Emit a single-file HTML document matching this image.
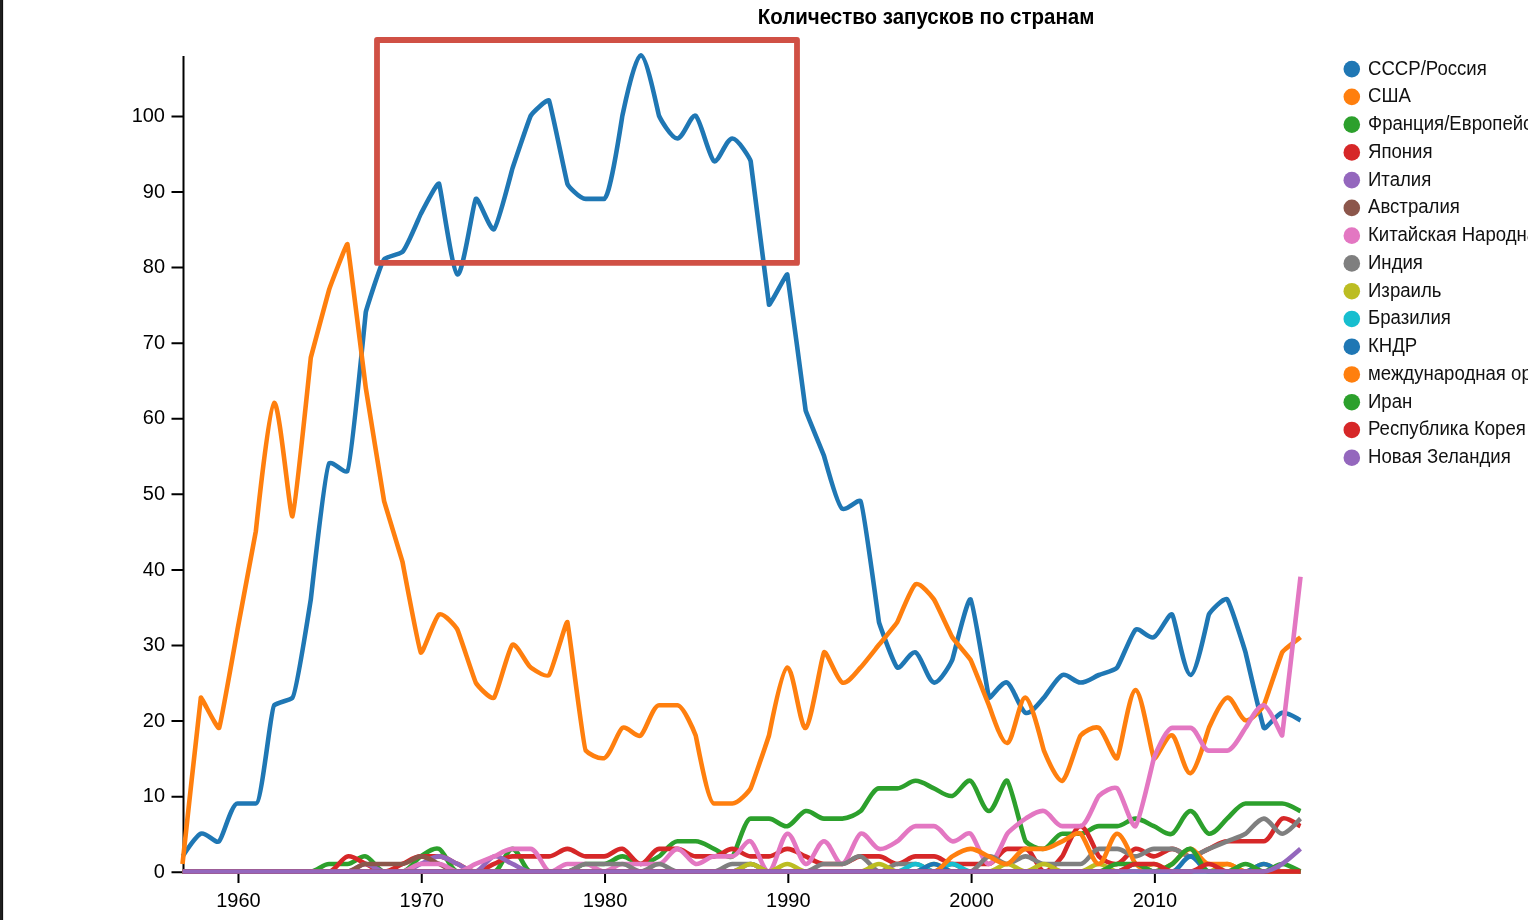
<!DOCTYPE html>
<html><head><meta charset="utf-8"><style>
html,body{margin:0;padding:0;background:#fff;width:1528px;height:920px;overflow:hidden}
svg{position:absolute;left:0;top:0;font-family:"Liberation Sans",sans-serif;will-change:transform}
</style></head><body>
<svg width="1528" height="920" viewBox="0 0 1528 920">
<rect x="0" y="0" width="2" height="920" fill="#1f1f1f"/>
<rect x="2" y="0" width="1" height="920" fill="#111"/>
<rect x="3" y="0" width="1" height="920" fill="#e2e2e2"/>
<text transform="translate(926.00,23.50) scale(1,1.055)" text-anchor="middle" font-weight="bold" font-size="20.5" fill="#000">Количество запусков по странам</text>
<path stroke="#000" stroke-width="2" fill="none" d="M183.5,56V872H1300.5M171.5,872.20H183.5M171.5,796.63H183.5M171.5,721.05H183.5M171.5,645.48H183.5M171.5,569.90H183.5M171.5,494.33H183.5M171.5,418.76H183.5M171.5,343.18H183.5M171.5,267.61H183.5M171.5,192.03H183.5M171.5,116.46H183.5M238.48,872.0V883.0M421.76,872.0V883.0M605.04,872.0V883.0M788.32,872.0V883.0M971.60,872.0V883.0M1154.88,872.0V883.0"/>
<g font-size="20" fill="#000">
<text transform="translate(165.00,877.80) scale(1,1.055)" text-anchor="end">0</text><text transform="translate(165.00,802.23) scale(1,1.055)" text-anchor="end">10</text><text transform="translate(165.00,726.65) scale(1,1.055)" text-anchor="end">20</text><text transform="translate(165.00,651.08) scale(1,1.055)" text-anchor="end">30</text><text transform="translate(165.00,575.50) scale(1,1.055)" text-anchor="end">40</text><text transform="translate(165.00,499.93) scale(1,1.055)" text-anchor="end">50</text><text transform="translate(165.00,424.36) scale(1,1.055)" text-anchor="end">60</text><text transform="translate(165.00,348.78) scale(1,1.055)" text-anchor="end">70</text><text transform="translate(165.00,273.21) scale(1,1.055)" text-anchor="end">80</text><text transform="translate(165.00,197.63) scale(1,1.055)" text-anchor="end">90</text><text transform="translate(165.00,122.06) scale(1,1.055)" text-anchor="end">100</text>
<text transform="translate(238.48,906.60) scale(1,1.055)" text-anchor="middle">1960</text><text transform="translate(421.76,906.60) scale(1,1.055)" text-anchor="middle">1970</text><text transform="translate(605.04,906.60) scale(1,1.055)" text-anchor="middle">1980</text><text transform="translate(788.32,906.60) scale(1,1.055)" text-anchor="middle">1990</text><text transform="translate(971.60,906.60) scale(1,1.055)" text-anchor="middle">2000</text><text transform="translate(1154.88,906.60) scale(1,1.055)" text-anchor="middle">2010</text>
</g>
<g fill="none" stroke-width="4.6" stroke-linejoin="round">
<path d="M182.50,856.39C183.71,854.89,195.61,835.87,200.83,833.71S215.52,844.27,219.16,841.27S231.37,803.48,237.48,803.48S249.70,803.48,255.81,803.48S270.68,708.26,274.14,705.24S289.01,700.71,292.47,697.68S310.65,600.37,310.80,599.43S325.40,466.38,329.12,463.40S344.22,474.01,347.45,470.96S365.60,313.28,365.78,312.25S381.02,262.40,384.11,259.35S398.50,254.72,402.43,251.79S419.39,216.56,420.76,214.01S437.45,181.07,439.09,183.78S452.20,272.31,457.42,274.46S473.33,201.88,475.75,198.89S490.44,232.12,494.07,229.12S511.82,170.45,512.40,168.66S529.22,118.39,530.73,115.76S547.55,98.01,549.06,100.64S566.51,181.64,567.39,183.78S579.60,198.89,585.71,198.89S597.93,198.89,604.04,198.89S622.00,117.22,622.37,115.76S634.59,55.30,640.70,55.30S658.03,113.50,659.02,115.76S671.24,138.43,677.35,138.43S691.26,113.03,695.68,115.76S709.59,158.37,714.01,161.10S726.23,138.43,732.34,138.43S750.25,159.57,750.66,161.10S768.41,302.91,768.99,304.69S786.66,272.58,787.32,274.46S805.41,409.31,805.65,410.50S823.23,453.84,823.98,455.84S837.26,506.43,842.30,508.74S858.00,498.16,860.63,501.19S878.68,620.82,878.96,622.11S893.65,664.45,897.29,667.45S910.39,650.18,915.61,652.34S928.08,681.36,933.94,682.56S951.28,662.15,952.27,659.89S967.64,596.38,970.60,599.43S987.93,695.42,988.93,697.68S1002.03,680.41,1007.25,682.56S1020.36,710.64,1025.58,712.79S1040.95,700.73,1043.91,697.68S1057.02,677.16,1062.24,675.01S1074.46,682.56,1080.57,682.56S1093.59,677.08,1098.89,675.01S1114.65,670.47,1117.22,667.45S1131.91,632.66,1135.55,629.66S1148.66,639.37,1153.88,637.22S1169.24,611.49,1172.20,614.55S1184.42,675.01,1190.53,675.01S1207.70,616.95,1208.86,614.55S1224.23,596.38,1227.19,599.43S1245.06,650.72,1245.52,652.34S1262.20,725.20,1263.84,727.91S1276.31,714.00,1282.17,712.79S1297.89,719.28,1300.50,720.35" stroke="#1f77b4"/><path d="M182.50,863.94C182.54,863.61,200.41,699.21,200.83,697.68S217.78,730.46,219.16,727.91S237.28,630.76,237.48,629.66S255.66,532.38,255.81,531.42S268.92,405.09,274.14,402.94S290.05,519.29,292.47,516.30S310.64,358.56,310.80,357.60S328.54,291.37,329.12,289.58S346.70,242.23,347.45,244.24S365.66,386.97,365.78,387.83S383.85,499.95,384.11,501.19S402.10,560.25,402.43,561.65S418.78,649.48,420.76,652.34S434.67,617.28,439.09,614.55S456.04,627.11,457.42,629.66S474.37,680.01,475.75,682.56S491.11,700.73,494.07,697.68S508.77,647.78,512.40,644.78S526.58,664.60,530.73,667.45S546.09,678.06,549.06,675.01S566.22,619.71,567.39,622.11S583.26,747.59,585.71,750.58S598.17,759.33,604.04,758.14S617.95,730.64,622.37,727.91S636.28,738.20,640.70,735.47S652.92,705.24,659.02,705.24S671.24,705.24,677.35,705.24S694.93,733.47,695.68,735.47S707.90,803.48,714.01,803.48S726.23,803.48,732.34,803.48S749.29,790.92,750.66,788.37S768.48,737.16,768.99,735.47S781.46,668.66,787.32,667.45S800.43,730.06,805.65,727.91S821.56,655.32,823.98,652.34S837.08,680.41,842.30,682.56S857.67,670.50,860.63,667.45S876.54,647.76,878.96,644.78S895.64,624.81,897.29,622.11S911.20,587.05,915.61,584.32S931.96,596.57,933.94,599.43S950.63,634.51,952.27,637.22S969.22,657.34,970.60,659.89S987.93,702.98,988.93,705.24S1001.39,744.23,1007.25,743.02S1019.72,696.47,1025.58,697.68S1042.92,748.33,1043.91,750.58S1057.02,782.96,1062.24,780.81S1077.90,738.50,1080.57,735.47S1093.96,725.50,1098.89,727.91S1114.26,761.19,1117.22,758.14S1129.44,690.12,1135.55,690.12S1151.46,755.15,1153.88,758.14S1166.98,733.31,1172.20,735.47S1184.67,774.46,1190.53,773.25S1207.70,730.31,1208.86,727.91S1221.33,698.89,1227.19,697.68S1239.66,719.14,1245.52,720.35S1262.47,707.79,1263.84,705.24S1280.80,654.89,1282.17,652.34S1298.68,638.72,1300.50,637.22" stroke="#ff7f0e"/><path d="M182.50,871.50C185.55,871.50,194.72,871.50,200.83,871.50S213.05,871.50,219.16,871.50S231.37,871.50,237.48,871.50S249.70,871.50,255.81,871.50S268.03,871.50,274.14,871.50S286.36,871.50,292.47,871.50S304.69,871.50,310.80,871.50S323.01,863.94,329.12,863.94S341.34,863.94,347.45,863.94S359.92,855.18,365.78,856.39S378.00,871.50,384.11,871.50S396.33,871.50,402.43,871.50S416.34,859.12,420.76,856.39S433.87,846.67,439.09,848.83S451.31,871.50,457.42,871.50S469.64,871.50,475.75,871.50S487.96,871.50,494.07,871.50S506.29,848.83,512.40,848.83S524.62,871.50,530.73,871.50S542.95,871.50,549.06,871.50S561.28,871.50,567.39,871.50S579.60,863.94,585.71,863.94S597.93,863.94,604.04,863.94S616.26,856.39,622.37,856.39S634.59,863.94,640.70,863.94S654.61,859.12,659.02,856.39S671.24,841.27,677.35,841.27S689.57,841.27,695.68,841.27S708.79,846.67,714.01,848.83S728.70,859.38,732.34,856.39S744.55,818.60,750.66,818.60S762.88,818.60,768.99,818.60S781.46,827.36,787.32,826.16S799.79,812.25,805.65,811.04S817.87,818.60,823.98,818.60S836.19,818.60,842.30,818.60S856.99,814.04,860.63,811.04S872.85,788.37,878.96,788.37S891.18,788.37,897.29,788.37S909.51,780.81,915.61,780.81S928.72,786.22,933.94,788.37S946.41,797.13,952.27,795.93S965.38,778.66,970.60,780.81S982.82,811.04,988.93,811.04S1003.62,777.81,1007.25,780.81S1023.15,838.28,1025.58,841.27S1037.91,849.65,1043.91,848.83S1056.13,833.71,1062.24,833.71S1074.46,833.71,1080.57,833.71S1092.78,826.16,1098.89,826.16S1111.11,826.16,1117.22,826.16S1129.44,818.60,1135.55,818.60S1148.66,824.00,1153.88,826.16S1166.98,835.87,1172.20,833.71S1184.42,811.04,1190.53,811.04S1203.00,832.50,1208.86,833.71S1223.55,821.60,1227.19,818.60S1239.41,803.48,1245.52,803.48S1257.73,803.48,1263.84,803.48S1276.06,803.48,1282.17,803.48S1297.89,809.96,1300.50,811.04" stroke="#2ca02c"/><path d="M182.50,871.50C185.55,871.50,194.72,871.50,200.83,871.50S213.05,871.50,219.16,871.50S231.37,871.50,237.48,871.50S249.70,871.50,255.81,871.50S268.03,871.50,274.14,871.50S286.36,871.50,292.47,871.50S304.69,871.50,310.80,871.50S323.01,871.50,329.12,871.50S341.59,857.59,347.45,856.39S360.56,861.79,365.78,863.94S378.00,871.50,384.11,871.50S397.21,866.10,402.43,863.94S414.65,856.39,420.76,856.39S432.98,856.39,439.09,856.39S452.20,861.79,457.42,863.94S469.64,871.50,475.75,871.50S488.85,866.10,494.07,863.94S506.29,856.39,512.40,856.39S524.62,856.39,530.73,856.39S542.95,856.39,549.06,856.39S561.28,848.83,567.39,848.83S579.60,856.39,585.71,856.39S597.93,856.39,604.04,856.39S616.51,847.62,622.37,848.83S634.59,863.94,640.70,863.94S652.92,848.83,659.02,848.83S671.24,848.83,677.35,848.83S689.57,856.39,695.68,856.39S707.90,856.39,714.01,856.39S726.23,848.83,732.34,848.83S744.55,856.39,750.66,856.39S762.88,856.39,768.99,856.39S781.21,848.83,787.32,848.83S800.43,854.23,805.65,856.39S817.87,863.94,823.98,863.94S836.19,863.94,842.30,863.94S854.52,856.39,860.63,856.39S872.85,856.39,878.96,856.39S891.18,863.94,897.29,863.94S909.51,856.39,915.61,856.39S927.83,856.39,933.94,856.39S946.16,863.94,952.27,863.94S964.49,863.94,970.60,863.94S982.82,863.94,988.93,863.94S1001.14,848.83,1007.25,848.83S1019.47,848.83,1025.58,848.83S1038.05,870.29,1043.91,871.50S1059.82,859.37,1062.24,856.39S1074.46,826.16,1080.57,826.16S1095.93,853.33,1098.89,856.39S1111.36,865.15,1117.22,863.94S1129.69,850.04,1135.55,848.83S1147.77,856.39,1153.88,856.39S1166.10,848.83,1172.20,848.83S1184.42,856.39,1190.53,856.39S1203.64,850.98,1208.86,848.83S1221.08,841.27,1227.19,841.27S1239.41,841.27,1245.52,841.27S1257.73,841.27,1263.84,841.27S1276.95,820.75,1282.17,818.60S1297.89,825.08,1300.50,826.16" stroke="#d62728"/><path d="M182.50,871.50C185.55,871.50,194.72,871.50,200.83,871.50S213.05,871.50,219.16,871.50S231.37,871.50,237.48,871.50S249.70,871.50,255.81,871.50S268.03,871.50,274.14,871.50S286.36,871.50,292.47,871.50S304.69,871.50,310.80,871.50S323.01,871.50,329.12,871.50S341.34,871.50,347.45,871.50S359.67,863.94,365.78,863.94S378.00,871.50,384.11,871.50S396.33,871.50,402.43,871.50S415.54,866.10,420.76,863.94S432.98,856.39,439.09,856.39S452.20,861.79,457.42,863.94S469.89,872.71,475.75,871.50S488.21,857.59,494.07,856.39S507.18,861.79,512.40,863.94S524.62,871.50,530.73,871.50S542.95,871.50,549.06,871.50S561.28,871.50,567.39,871.50S579.60,871.50,585.71,871.50S597.93,871.50,604.04,871.50S616.26,871.50,622.37,871.50S634.59,871.50,640.70,871.50S652.92,871.50,659.02,871.50S671.24,871.50,677.35,871.50S689.57,871.50,695.68,871.50S707.90,871.50,714.01,871.50S726.23,871.50,732.34,871.50S744.55,863.94,750.66,863.94S762.88,871.50,768.99,871.50S781.21,871.50,787.32,871.50S799.54,871.50,805.65,871.50S817.87,871.50,823.98,871.50S836.19,871.50,842.30,871.50S854.52,871.50,860.63,871.50S872.85,871.50,878.96,871.50S891.18,871.50,897.29,871.50S909.51,871.50,915.61,871.50S927.83,871.50,933.94,871.50S946.16,871.50,952.27,871.50S964.49,871.50,970.60,871.50S982.82,871.50,988.93,871.50S1001.14,871.50,1007.25,871.50S1019.47,871.50,1025.58,871.50S1037.80,871.50,1043.91,871.50S1056.13,871.50,1062.24,871.50S1074.46,871.50,1080.57,871.50S1092.78,871.50,1098.89,871.50S1111.11,871.50,1117.22,871.50S1129.44,871.50,1135.55,871.50S1147.77,871.50,1153.88,871.50S1166.10,871.50,1172.20,871.50S1184.42,871.50,1190.53,871.50S1202.75,871.50,1208.86,871.50S1221.08,871.50,1227.19,871.50S1239.41,871.50,1245.52,871.50S1257.73,871.50,1263.84,871.50S1276.06,871.50,1282.17,871.50S1297.45,871.50,1300.50,871.50" stroke="#9467bd"/><path d="M182.50,871.50C185.55,871.50,194.72,871.50,200.83,871.50S213.05,871.50,219.16,871.50S231.37,871.50,237.48,871.50S249.70,871.50,255.81,871.50S268.03,871.50,274.14,871.50S286.36,871.50,292.47,871.50S304.69,871.50,310.80,871.50S323.01,871.50,329.12,871.50S341.34,871.50,347.45,871.50S359.67,863.94,365.78,863.94S378.00,863.94,384.11,863.94S396.33,863.94,402.43,863.94S414.65,856.39,420.76,856.39S433.87,861.79,439.09,863.94S451.31,871.50,457.42,871.50S469.64,871.50,475.75,871.50S487.96,871.50,494.07,871.50S506.29,871.50,512.40,871.50S524.62,871.50,530.73,871.50S542.95,871.50,549.06,871.50S561.28,871.50,567.39,871.50S579.60,871.50,585.71,871.50S597.93,871.50,604.04,871.50S616.26,871.50,622.37,871.50S634.59,871.50,640.70,871.50S652.92,871.50,659.02,871.50S671.24,871.50,677.35,871.50S689.57,871.50,695.68,871.50S707.90,871.50,714.01,871.50S726.23,871.50,732.34,871.50S744.55,871.50,750.66,871.50S762.88,871.50,768.99,871.50S781.21,871.50,787.32,871.50S799.54,871.50,805.65,871.50S817.87,871.50,823.98,871.50S836.19,871.50,842.30,871.50S854.52,871.50,860.63,871.50S872.85,871.50,878.96,871.50S891.18,871.50,897.29,871.50S909.51,871.50,915.61,871.50S927.83,871.50,933.94,871.50S946.16,871.50,952.27,871.50S964.49,871.50,970.60,871.50S982.82,871.50,988.93,871.50S1001.14,871.50,1007.25,871.50S1019.47,871.50,1025.58,871.50S1037.80,871.50,1043.91,871.50S1056.13,871.50,1062.24,871.50S1074.46,871.50,1080.57,871.50S1092.78,871.50,1098.89,871.50S1111.11,871.50,1117.22,871.50S1129.44,871.50,1135.55,871.50S1147.77,871.50,1153.88,871.50S1166.10,871.50,1172.20,871.50S1184.42,871.50,1190.53,871.50S1202.75,871.50,1208.86,871.50S1221.08,871.50,1227.19,871.50S1239.41,871.50,1245.52,871.50S1257.73,871.50,1263.84,871.50S1276.06,871.50,1282.17,871.50S1297.45,871.50,1300.50,871.50" stroke="#8c564b"/><path d="M182.50,871.50C185.55,871.50,194.72,871.50,200.83,871.50S213.05,871.50,219.16,871.50S231.37,871.50,237.48,871.50S249.70,871.50,255.81,871.50S268.03,871.50,274.14,871.50S286.36,871.50,292.47,871.50S304.69,871.50,310.80,871.50S323.01,871.50,329.12,871.50S341.34,871.50,347.45,871.50S359.67,871.50,365.78,871.50S378.00,871.50,384.11,871.50S396.33,871.50,402.43,871.50S414.65,863.94,420.76,863.94S432.98,863.94,439.09,863.94S451.31,871.50,457.42,871.50S470.52,866.10,475.75,863.94S488.85,858.54,494.07,856.39S506.29,848.83,512.40,848.83S524.62,848.83,530.73,848.83S543.84,869.35,549.06,871.50S561.28,863.94,567.39,863.94S579.60,863.94,585.71,863.94S597.93,871.50,604.04,871.50S616.26,863.94,622.37,863.94S634.59,863.94,640.70,863.94S652.92,863.94,659.02,863.94S671.24,848.83,677.35,848.83S689.82,862.73,695.68,863.94S707.90,856.39,714.01,856.39S726.23,856.39,732.34,856.39S745.44,839.12,750.66,841.27S763.13,872.71,768.99,871.50S781.46,834.92,787.32,833.71S799.79,862.73,805.65,863.94S817.87,841.27,823.98,841.27S836.44,865.15,842.30,863.94S855.41,835.87,860.63,833.71S873.10,847.62,878.96,848.83S892.87,844.00,897.29,841.27S909.51,826.16,915.61,826.16S927.83,826.16,933.94,826.16S946.41,840.06,952.27,841.27S966.18,830.98,970.60,833.71S982.82,863.94,988.93,863.94S1004.84,836.70,1007.25,833.71S1021.16,821.33,1025.58,818.60S1038.05,809.83,1043.91,811.04S1056.13,826.16,1062.24,826.16S1074.46,826.16,1080.57,826.16S1095.73,798.98,1098.89,795.93S1113.40,785.41,1117.22,788.37S1131.91,829.15,1135.55,826.16S1153.13,760.14,1153.88,758.14S1166.10,727.91,1172.20,727.91S1184.42,727.91,1190.53,727.91S1202.75,750.58,1208.86,750.58S1221.08,750.58,1227.19,750.58S1243.10,730.90,1245.52,727.91S1257.98,704.03,1263.84,705.24S1281.71,737.08,1282.17,735.47S1300.46,577.11,1300.50,576.76" stroke="#e377c2"/><path d="M182.50,871.50C185.55,871.50,194.72,871.50,200.83,871.50S213.05,871.50,219.16,871.50S231.37,871.50,237.48,871.50S249.70,871.50,255.81,871.50S268.03,871.50,274.14,871.50S286.36,871.50,292.47,871.50S304.69,871.50,310.80,871.50S323.01,871.50,329.12,871.50S341.34,871.50,347.45,871.50S359.67,871.50,365.78,871.50S378.00,871.50,384.11,871.50S396.33,871.50,402.43,871.50S414.65,871.50,420.76,871.50S432.98,871.50,439.09,871.50S451.31,871.50,457.42,871.50S469.64,871.50,475.75,871.50S487.96,871.50,494.07,871.50S506.29,871.50,512.40,871.50S524.62,871.50,530.73,871.50S542.95,871.50,549.06,871.50S561.28,871.50,567.39,871.50S579.60,863.94,585.71,863.94S597.93,863.94,604.04,863.94S616.26,863.94,622.37,863.94S634.59,871.50,640.70,871.50S652.92,863.94,659.02,863.94S671.24,871.50,677.35,871.50S689.57,871.50,695.68,871.50S707.90,871.50,714.01,871.50S726.23,863.94,732.34,863.94S744.55,863.94,750.66,863.94S762.88,871.50,768.99,871.50S781.21,871.50,787.32,871.50S799.54,871.50,805.65,871.50S817.87,863.94,823.98,863.94S836.19,863.94,842.30,863.94S854.77,855.18,860.63,856.39S873.10,870.29,878.96,871.50S891.18,863.94,897.29,863.94S909.51,863.94,915.61,863.94S927.83,871.50,933.94,871.50S946.16,863.94,952.27,863.94S964.74,872.71,970.60,871.50S983.07,857.59,988.93,856.39S1001.14,863.94,1007.25,863.94S1019.47,856.39,1025.58,856.39S1037.80,863.94,1043.91,863.94S1056.13,863.94,1062.24,863.94S1074.46,863.94,1080.57,863.94S1092.78,848.83,1098.89,848.83S1111.11,848.83,1117.22,848.83S1129.44,856.39,1135.55,856.39S1147.77,848.83,1153.88,848.83S1166.10,848.83,1172.20,848.83S1184.42,856.39,1190.53,856.39S1203.64,850.98,1208.86,848.83S1221.97,843.42,1227.19,841.27S1241.10,836.45,1245.52,833.71S1257.73,818.60,1263.84,818.60S1276.06,833.71,1282.17,833.71S1298.68,820.10,1300.50,818.60" stroke="#7f7f7f"/><path d="M182.50,871.50C185.55,871.50,194.72,871.50,200.83,871.50S213.05,871.50,219.16,871.50S231.37,871.50,237.48,871.50S249.70,871.50,255.81,871.50S268.03,871.50,274.14,871.50S286.36,871.50,292.47,871.50S304.69,871.50,310.80,871.50S323.01,871.50,329.12,871.50S341.34,871.50,347.45,871.50S359.67,871.50,365.78,871.50S378.00,871.50,384.11,871.50S396.33,871.50,402.43,871.50S414.65,871.50,420.76,871.50S432.98,871.50,439.09,871.50S451.31,871.50,457.42,871.50S469.64,871.50,475.75,871.50S487.96,871.50,494.07,871.50S506.29,871.50,512.40,871.50S524.62,871.50,530.73,871.50S542.95,871.50,549.06,871.50S561.28,871.50,567.39,871.50S579.60,871.50,585.71,871.50S597.93,871.50,604.04,871.50S616.26,871.50,622.37,871.50S634.59,871.50,640.70,871.50S652.92,871.50,659.02,871.50S671.24,871.50,677.35,871.50S689.57,871.50,695.68,871.50S707.90,871.50,714.01,871.50S726.23,871.50,732.34,871.50S744.55,863.94,750.66,863.94S762.88,871.50,768.99,871.50S781.21,863.94,787.32,863.94S799.54,871.50,805.65,871.50S817.87,871.50,823.98,871.50S836.19,871.50,842.30,871.50S854.52,871.50,860.63,871.50S872.85,863.94,878.96,863.94S891.18,871.50,897.29,871.50S909.51,871.50,915.61,871.50S927.83,863.94,933.94,863.94S946.16,871.50,952.27,871.50S964.49,871.50,970.60,871.50S982.82,871.50,988.93,871.50S1001.14,863.94,1007.25,863.94S1019.47,871.50,1025.58,871.50S1037.80,863.94,1043.91,863.94S1056.13,871.50,1062.24,871.50S1074.46,871.50,1080.57,871.50S1092.78,863.94,1098.89,863.94S1111.11,871.50,1117.22,871.50S1129.44,871.50,1135.55,871.50S1147.77,863.94,1153.88,863.94S1166.10,871.50,1172.20,871.50S1184.42,871.50,1190.53,871.50S1202.75,871.50,1208.86,871.50S1221.08,863.94,1227.19,863.94S1239.41,871.50,1245.52,871.50S1257.73,863.94,1263.84,863.94S1276.06,871.50,1282.17,871.50S1297.45,871.50,1300.50,871.50" stroke="#bcbd22"/><path d="M182.50,871.50C185.55,871.50,194.72,871.50,200.83,871.50S213.05,871.50,219.16,871.50S231.37,871.50,237.48,871.50S249.70,871.50,255.81,871.50S268.03,871.50,274.14,871.50S286.36,871.50,292.47,871.50S304.69,871.50,310.80,871.50S323.01,871.50,329.12,871.50S341.34,871.50,347.45,871.50S359.67,871.50,365.78,871.50S378.00,871.50,384.11,871.50S396.33,871.50,402.43,871.50S414.65,871.50,420.76,871.50S432.98,871.50,439.09,871.50S451.31,871.50,457.42,871.50S469.64,871.50,475.75,871.50S487.96,871.50,494.07,871.50S506.29,871.50,512.40,871.50S524.62,871.50,530.73,871.50S542.95,871.50,549.06,871.50S561.28,871.50,567.39,871.50S579.60,871.50,585.71,871.50S597.93,871.50,604.04,871.50S616.26,871.50,622.37,871.50S634.59,871.50,640.70,871.50S652.92,871.50,659.02,871.50S671.24,871.50,677.35,871.50S689.57,871.50,695.68,871.50S707.90,871.50,714.01,871.50S726.23,871.50,732.34,871.50S744.55,871.50,750.66,871.50S762.88,871.50,768.99,871.50S781.21,871.50,787.32,871.50S799.54,871.50,805.65,871.50S817.87,871.50,823.98,871.50S836.19,871.50,842.30,871.50S854.52,871.50,860.63,871.50S872.85,871.50,878.96,871.50S891.18,871.50,897.29,871.50S909.51,863.94,915.61,863.94S927.83,871.50,933.94,871.50S946.16,863.94,952.27,863.94S964.49,871.50,970.60,871.50S982.82,871.50,988.93,871.50S1001.14,871.50,1007.25,871.50S1019.47,871.50,1025.58,871.50S1037.80,871.50,1043.91,871.50S1056.13,871.50,1062.24,871.50S1074.46,871.50,1080.57,871.50S1092.78,871.50,1098.89,871.50S1111.11,871.50,1117.22,871.50S1129.44,871.50,1135.55,871.50S1147.77,871.50,1153.88,871.50S1166.10,871.50,1172.20,871.50S1184.42,871.50,1190.53,871.50S1202.75,871.50,1208.86,871.50S1221.08,871.50,1227.19,871.50S1239.41,871.50,1245.52,871.50S1257.73,871.50,1263.84,871.50S1276.06,871.50,1282.17,871.50S1297.45,871.50,1300.50,871.50" stroke="#17becf"/><path d="M182.50,871.50C185.55,871.50,194.72,871.50,200.83,871.50S213.05,871.50,219.16,871.50S231.37,871.50,237.48,871.50S249.70,871.50,255.81,871.50S268.03,871.50,274.14,871.50S286.36,871.50,292.47,871.50S304.69,871.50,310.80,871.50S323.01,871.50,329.12,871.50S341.34,871.50,347.45,871.50S359.67,871.50,365.78,871.50S378.00,871.50,384.11,871.50S396.33,871.50,402.43,871.50S414.65,871.50,420.76,871.50S432.98,871.50,439.09,871.50S451.31,871.50,457.42,871.50S469.64,871.50,475.75,871.50S487.96,871.50,494.07,871.50S506.29,871.50,512.40,871.50S524.62,871.50,530.73,871.50S542.95,871.50,549.06,871.50S561.28,871.50,567.39,871.50S579.60,871.50,585.71,871.50S597.93,871.50,604.04,871.50S616.26,871.50,622.37,871.50S634.59,871.50,640.70,871.50S652.92,871.50,659.02,871.50S671.24,871.50,677.35,871.50S689.57,871.50,695.68,871.50S707.90,871.50,714.01,871.50S726.23,871.50,732.34,871.50S744.55,871.50,750.66,871.50S762.88,871.50,768.99,871.50S781.21,871.50,787.32,871.50S799.54,871.50,805.65,871.50S817.87,871.50,823.98,871.50S836.19,871.50,842.30,871.50S854.52,871.50,860.63,871.50S872.85,871.50,878.96,871.50S891.18,871.50,897.29,871.50S909.51,871.50,915.61,871.50S927.83,863.94,933.94,863.94S946.16,871.50,952.27,871.50S964.49,871.50,970.60,871.50S982.82,871.50,988.93,871.50S1001.14,871.50,1007.25,871.50S1019.47,871.50,1025.58,871.50S1037.80,871.50,1043.91,871.50S1056.13,871.50,1062.24,871.50S1074.46,871.50,1080.57,871.50S1092.78,871.50,1098.89,871.50S1111.11,871.50,1117.22,871.50S1129.44,863.94,1135.55,863.94S1147.77,871.50,1153.88,871.50S1166.10,871.50,1172.20,871.50S1184.42,856.39,1190.53,856.39S1202.75,871.50,1208.86,871.50S1221.08,871.50,1227.19,871.50S1239.41,871.50,1245.52,871.50S1257.73,863.94,1263.84,863.94S1276.06,871.50,1282.17,871.50S1297.45,871.50,1300.50,871.50" stroke="#1f77b4"/><path d="M182.50,871.50C185.55,871.50,194.72,871.50,200.83,871.50S213.05,871.50,219.16,871.50S231.37,871.50,237.48,871.50S249.70,871.50,255.81,871.50S268.03,871.50,274.14,871.50S286.36,871.50,292.47,871.50S304.69,871.50,310.80,871.50S323.01,871.50,329.12,871.50S341.34,871.50,347.45,871.50S359.67,871.50,365.78,871.50S378.00,871.50,384.11,871.50S396.33,871.50,402.43,871.50S414.65,871.50,420.76,871.50S432.98,871.50,439.09,871.50S451.31,871.50,457.42,871.50S469.64,871.50,475.75,871.50S487.96,871.50,494.07,871.50S506.29,871.50,512.40,871.50S524.62,871.50,530.73,871.50S542.95,871.50,549.06,871.50S561.28,871.50,567.39,871.50S579.60,871.50,585.71,871.50S597.93,871.50,604.04,871.50S616.26,871.50,622.37,871.50S634.59,871.50,640.70,871.50S652.92,871.50,659.02,871.50S671.24,871.50,677.35,871.50S689.57,871.50,695.68,871.50S707.90,871.50,714.01,871.50S726.23,871.50,732.34,871.50S744.55,871.50,750.66,871.50S762.88,871.50,768.99,871.50S781.21,871.50,787.32,871.50S799.54,871.50,805.65,871.50S817.87,871.50,823.98,871.50S836.19,871.50,842.30,871.50S854.52,871.50,860.63,871.50S872.85,871.50,878.96,871.50S891.18,871.50,897.29,871.50S909.51,871.50,915.61,871.50S927.83,871.50,933.94,871.50S947.85,859.12,952.27,856.39S964.49,848.83,970.60,848.83S983.70,854.23,988.93,856.39S1001.39,865.15,1007.25,863.94S1019.47,848.83,1025.58,848.83S1037.80,848.83,1043.91,848.83S1057.02,843.42,1062.24,841.27S1076.15,830.98,1080.57,833.71S1092.78,863.94,1098.89,863.94S1111.11,833.71,1117.22,833.71S1132.59,860.89,1135.55,863.94S1147.77,871.50,1153.88,871.50S1167.79,866.68,1172.20,863.94S1184.42,848.83,1190.53,848.83S1202.75,863.94,1208.86,863.94S1221.08,863.94,1227.19,863.94S1239.41,871.50,1245.52,871.50S1257.73,871.50,1263.84,871.50S1276.06,871.50,1282.17,871.50S1297.45,871.50,1300.50,871.50" stroke="#ff7f0e"/><path d="M182.50,871.50C185.55,871.50,194.72,871.50,200.83,871.50S213.05,871.50,219.16,871.50S231.37,871.50,237.48,871.50S249.70,871.50,255.81,871.50S268.03,871.50,274.14,871.50S286.36,871.50,292.47,871.50S304.69,871.50,310.80,871.50S323.01,871.50,329.12,871.50S341.34,871.50,347.45,871.50S359.67,871.50,365.78,871.50S378.00,871.50,384.11,871.50S396.33,871.50,402.43,871.50S414.65,871.50,420.76,871.50S432.98,871.50,439.09,871.50S451.31,871.50,457.42,871.50S469.64,871.50,475.75,871.50S487.96,871.50,494.07,871.50S506.29,871.50,512.40,871.50S524.62,871.50,530.73,871.50S542.95,871.50,549.06,871.50S561.28,871.50,567.39,871.50S579.60,871.50,585.71,871.50S597.93,871.50,604.04,871.50S616.26,871.50,622.37,871.50S634.59,871.50,640.70,871.50S652.92,871.50,659.02,871.50S671.24,871.50,677.35,871.50S689.57,871.50,695.68,871.50S707.90,871.50,714.01,871.50S726.23,871.50,732.34,871.50S744.55,871.50,750.66,871.50S762.88,871.50,768.99,871.50S781.21,871.50,787.32,871.50S799.54,871.50,805.65,871.50S817.87,871.50,823.98,871.50S836.19,871.50,842.30,871.50S854.52,871.50,860.63,871.50S872.85,871.50,878.96,871.50S891.18,871.50,897.29,871.50S909.51,871.50,915.61,871.50S927.83,871.50,933.94,871.50S946.16,871.50,952.27,871.50S964.49,871.50,970.60,871.50S982.82,871.50,988.93,871.50S1001.14,871.50,1007.25,871.50S1019.47,871.50,1025.58,871.50S1037.80,871.50,1043.91,871.50S1056.13,871.50,1062.24,871.50S1074.46,871.50,1080.57,871.50S1092.78,871.50,1098.89,871.50S1111.11,863.94,1117.22,863.94S1129.44,863.94,1135.55,863.94S1147.77,871.50,1153.88,871.50S1167.79,866.68,1172.20,863.94S1184.67,847.62,1190.53,848.83S1202.75,871.50,1208.86,871.50S1221.08,871.50,1227.19,871.50S1239.41,863.94,1245.52,863.94S1257.73,871.50,1263.84,871.50S1276.06,863.94,1282.17,863.94S1297.89,870.42,1300.50,871.50" stroke="#2ca02c"/><path d="M182.50,871.50C185.55,871.50,194.72,871.50,200.83,871.50S213.05,871.50,219.16,871.50S231.37,871.50,237.48,871.50S249.70,871.50,255.81,871.50S268.03,871.50,274.14,871.50S286.36,871.50,292.47,871.50S304.69,871.50,310.80,871.50S323.01,871.50,329.12,871.50S341.34,871.50,347.45,871.50S359.67,871.50,365.78,871.50S378.00,871.50,384.11,871.50S396.33,871.50,402.43,871.50S414.65,871.50,420.76,871.50S432.98,871.50,439.09,871.50S451.31,871.50,457.42,871.50S469.64,871.50,475.75,871.50S487.96,871.50,494.07,871.50S506.29,871.50,512.40,871.50S524.62,871.50,530.73,871.50S542.95,871.50,549.06,871.50S561.28,871.50,567.39,871.50S579.60,871.50,585.71,871.50S597.93,871.50,604.04,871.50S616.26,871.50,622.37,871.50S634.59,871.50,640.70,871.50S652.92,871.50,659.02,871.50S671.24,871.50,677.35,871.50S689.57,871.50,695.68,871.50S707.90,871.50,714.01,871.50S726.23,871.50,732.34,871.50S744.55,871.50,750.66,871.50S762.88,871.50,768.99,871.50S781.21,871.50,787.32,871.50S799.54,871.50,805.65,871.50S817.87,871.50,823.98,871.50S836.19,871.50,842.30,871.50S854.52,871.50,860.63,871.50S872.85,871.50,878.96,871.50S891.18,871.50,897.29,871.50S909.51,871.50,915.61,871.50S927.83,871.50,933.94,871.50S946.16,871.50,952.27,871.50S964.49,871.50,970.60,871.50S982.82,871.50,988.93,871.50S1001.14,871.50,1007.25,871.50S1019.47,871.50,1025.58,871.50S1037.80,871.50,1043.91,871.50S1056.13,871.50,1062.24,871.50S1074.46,871.50,1080.57,871.50S1092.78,871.50,1098.89,871.50S1111.11,871.50,1117.22,871.50S1129.44,863.94,1135.55,863.94S1147.77,863.94,1153.88,863.94S1166.10,871.50,1172.20,871.50S1184.42,871.50,1190.53,871.50S1202.75,863.94,1208.86,863.94S1221.08,871.50,1227.19,871.50S1239.41,871.50,1245.52,871.50S1257.73,871.50,1263.84,871.50S1276.06,871.50,1282.17,871.50S1297.45,871.50,1300.50,871.50" stroke="#d62728"/><path d="M182.50,871.50C185.55,871.50,194.72,871.50,200.83,871.50S213.05,871.50,219.16,871.50S231.37,871.50,237.48,871.50S249.70,871.50,255.81,871.50S268.03,871.50,274.14,871.50S286.36,871.50,292.47,871.50S304.69,871.50,310.80,871.50S323.01,871.50,329.12,871.50S341.34,871.50,347.45,871.50S359.67,871.50,365.78,871.50S378.00,871.50,384.11,871.50S396.33,871.50,402.43,871.50S414.65,871.50,420.76,871.50S432.98,871.50,439.09,871.50S451.31,871.50,457.42,871.50S469.64,871.50,475.75,871.50S487.96,871.50,494.07,871.50S506.29,871.50,512.40,871.50S524.62,871.50,530.73,871.50S542.95,871.50,549.06,871.50S561.28,871.50,567.39,871.50S579.60,871.50,585.71,871.50S597.93,871.50,604.04,871.50S616.26,871.50,622.37,871.50S634.59,871.50,640.70,871.50S652.92,871.50,659.02,871.50S671.24,871.50,677.35,871.50S689.57,871.50,695.68,871.50S707.90,871.50,714.01,871.50S726.23,871.50,732.34,871.50S744.55,871.50,750.66,871.50S762.88,871.50,768.99,871.50S781.21,871.50,787.32,871.50S799.54,871.50,805.65,871.50S817.87,871.50,823.98,871.50S836.19,871.50,842.30,871.50S854.52,871.50,860.63,871.50S872.85,871.50,878.96,871.50S891.18,871.50,897.29,871.50S909.51,871.50,915.61,871.50S927.83,871.50,933.94,871.50S946.16,871.50,952.27,871.50S964.49,871.50,970.60,871.50S982.82,871.50,988.93,871.50S1001.14,871.50,1007.25,871.50S1019.47,871.50,1025.58,871.50S1037.80,871.50,1043.91,871.50S1056.13,871.50,1062.24,871.50S1074.46,871.50,1080.57,871.50S1092.78,871.50,1098.89,871.50S1111.11,871.50,1117.22,871.50S1129.44,871.50,1135.55,871.50S1147.77,871.50,1153.88,871.50S1166.10,871.50,1172.20,871.50S1184.42,871.50,1190.53,871.50S1202.75,871.50,1208.86,871.50S1221.08,871.50,1227.19,871.50S1239.41,871.50,1245.52,871.50S1257.73,871.50,1263.84,871.50S1277.75,866.68,1282.17,863.94S1298.68,850.33,1300.50,848.83" stroke="#9467bd"/>
</g>
<rect x="377" y="40" width="420" height="222.9" fill="none" stroke="#d05045" stroke-width="5.8" stroke-linejoin="round"/>
<g font-size="18.6" fill="#111">
<circle cx="1351.8" cy="69.10" r="8.30" fill="#1f77b4"/><text transform="translate(1368.00,74.50) scale(1,1.105)">СССР/Россия</text><circle cx="1351.8" cy="96.86" r="8.30" fill="#ff7f0e"/><text transform="translate(1368.00,102.26) scale(1,1.105)">США</text><circle cx="1351.8" cy="124.62" r="8.30" fill="#2ca02c"/><text transform="translate(1368.00,130.02) scale(1,1.105)">Франция/Европейское космическое агентство</text><circle cx="1351.8" cy="152.38" r="8.30" fill="#d62728"/><text transform="translate(1368.00,157.78) scale(1,1.105)">Япония</text><circle cx="1351.8" cy="180.14" r="8.30" fill="#9467bd"/><text transform="translate(1368.00,185.54) scale(1,1.105)">Италия</text><circle cx="1351.8" cy="207.90" r="8.30" fill="#8c564b"/><text transform="translate(1368.00,213.30) scale(1,1.105)">Австралия</text><circle cx="1351.8" cy="235.66" r="8.30" fill="#e377c2"/><text transform="translate(1368.00,241.06) scale(1,1.105)">Китайская Народная Республика</text><circle cx="1351.8" cy="263.42" r="8.30" fill="#7f7f7f"/><text transform="translate(1368.00,268.82) scale(1,1.105)">Индия</text><circle cx="1351.8" cy="291.18" r="8.30" fill="#bcbd22"/><text transform="translate(1368.00,296.58) scale(1,1.105)">Израиль</text><circle cx="1351.8" cy="318.94" r="8.30" fill="#17becf"/><text transform="translate(1368.00,324.34) scale(1,1.105)">Бразилия</text><circle cx="1351.8" cy="346.70" r="8.30" fill="#1f77b4"/><text transform="translate(1368.00,352.10) scale(1,1.105)">КНДР</text><circle cx="1351.8" cy="374.46" r="8.30" fill="#ff7f0e"/><text transform="translate(1368.00,379.86) scale(1,1.105)">международная организация</text><circle cx="1351.8" cy="402.22" r="8.30" fill="#2ca02c"/><text transform="translate(1368.00,407.62) scale(1,1.105)">Иран</text><circle cx="1351.8" cy="429.98" r="8.30" fill="#d62728"/><text transform="translate(1368.00,435.38) scale(1,1.105)">Республика Корея</text><circle cx="1351.8" cy="457.74" r="8.30" fill="#9467bd"/><text transform="translate(1368.00,463.14) scale(1,1.105)">Новая Зеландия</text>
</g>
</svg>
</body></html>
